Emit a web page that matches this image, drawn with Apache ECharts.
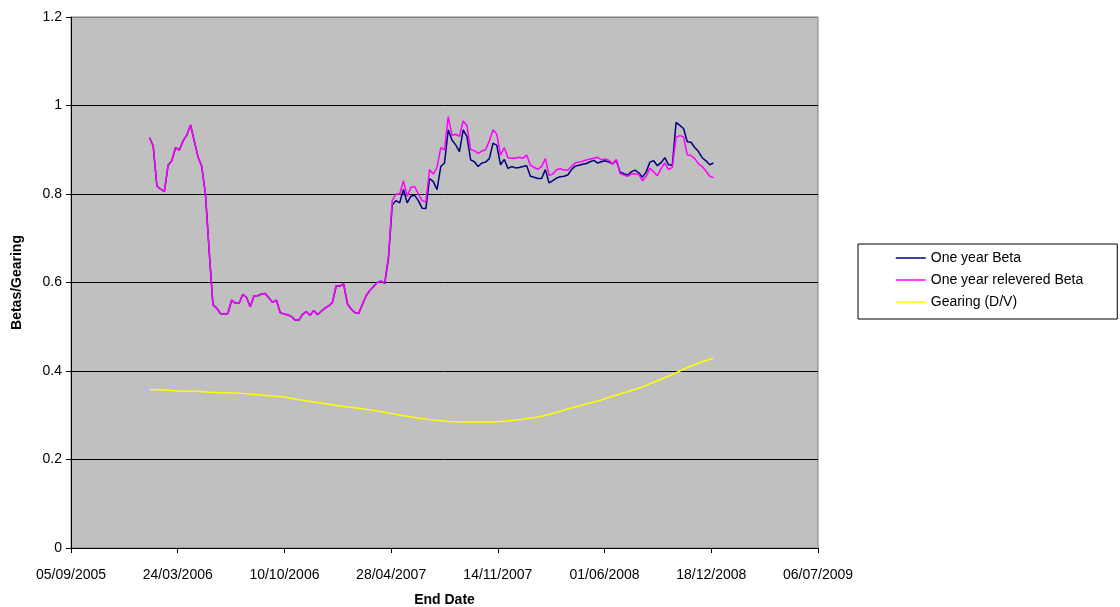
<!DOCTYPE html>
<html>
<head>
<meta charset="utf-8">
<script src="https://cdn.jsdelivr.net/npm/echarts@6/dist/echarts.min.js"></script>
<style>
  html, body { margin: 0; padding: 0; background: #fff; }
  #main { width: 1120px; height: 607px; }
</style>
</head>
<body>
<div id="main"></div>
<script>
// weekly observations, first one on 30/01/2006
var firstDate = '2006-01-30';
var axisStart = '2005-09-05';
var axisEndDay = 1400;
var tickDays = 200;

var betaOneYear = [
  .927, .909, .818, .811, .806, .865, .875, .905, .899, .920,
  .933, .956, .920, .884, .862, .800, .670, .550, .542, .530,
  .528, .530, .560, .553, .553, .573, .566, .545, .570, .570,
  .574, .575, .565, .555, .560, .532, .529, .527, .523, .515,
  .515, .528, .534, .526, .537, .527, .535, .542, .547, .555,
  .592, .592, .597, .552, .540, .532, .530, .550, .570, .582,
  .591, .600, .603, .598, .655, .775, .785, .780, .810, .780,
  .795, .797, .785, .768, .767, .835, .828, .810, .862, .870,
  .945, .922, .911, .896, .945, .930, .877, .873, .862, .870,
  .872, .880, .915, .910, .866, .878, .858, .862, .859, .860,
  .862, .864, .840, .838, .835, .835, .855, .825, .830, .836,
  .839, .840, .843, .855, .863, .865, .867, .869, .873, .876,
  .870, .873, .875, .872, .868, .876, .850, .846, .843, .850,
  .854, .848, .838, .850, .872, .875, .864, .871, .882, .866,
  .865, .962, .955, .948, .918, .917, .905, .896, .882, .875,
  .866, .870
];

var betaRelevered = [
  .927, .909, .818, .811, .806, .865, .875, .905, .899, .920,
  .933, .956, .920, .884, .862, .800, .670, .550, .542, .530,
  .528, .530, .560, .553, .553, .573, .566, .545, .570, .570,
  .574, .575, .565, .555, .560, .532, .529, .527, .523, .515,
  .515, .528, .534, .526, .537, .527, .535, .542, .547, .555,
  .592, .592, .597, .552, .540, .532, .530, .550, .570, .582,
  .591, .600, .603, .600, .660, .785, .800, .800, .830, .795,
  .815, .817, .800, .785, .782, .855, .845, .860, .905, .900,
  .975, .933, .935, .930, .965, .955, .900, .898, .892, .897,
  .900, .920, .945, .935, .888, .905, .882, .881, .881, .883,
  .881, .888, .865, .860, .856, .862, .880, .842, .845, .855,
  .857, .854, .854, .862, .870, .872, .874, .877, .879, .881,
  .883, .877, .879, .876, .868, .878, .846, .843, .840, .845,
  .845, .845, .830, .840, .858, .850, .841, .858, .870, .855,
  .860, .928, .932, .929, .888, .887, .880, .868, .862, .852,
  .840, .837
];

// gearing read every 4 weeks, last value on the final week
var gearingStep = 4;
var gearing = [
  .358, .357, .355, .354, .352, .351, .350, .347, .344, .341,
  .335, .330, .325, .320, .316, .311, .305, .299, .294, .289,
  .286, .285, .285, .285, .287, .291, .296, .304, .314, .323,
  .332, .343, .353, .364, .378, .392, .408, .421, .429
];

var DAY = 86400000;
function utc(s) {
  var p = s.split('-');
  return Date.UTC(+p[0], +p[1] - 1, +p[2]);
}
var base = utc(axisStart);
var firstDay = (utc(firstDate) - base) / DAY;

function weekDay(i) { return firstDay + 7 * i; }

var seriesBeta = betaOneYear.map(function (v, i) { return [weekDay(i), v]; });
var seriesRelev = betaRelevered.map(function (v, i) { return [weekDay(i), v]; });
var lastWeek = betaOneYear.length - 1;
var seriesGear = gearing.map(function (v, k) { return [weekDay(Math.min(k * gearingStep, lastWeek)), v]; });

function pad(n) { return n < 10 ? '0' + n : '' + n; }
function dayLabel(d) {
  var t = new Date(base + d * DAY);
  return pad(t.getUTCDate()) + '/' + pad(t.getUTCMonth() + 1) + '/' + t.getUTCFullYear();
}

var font = "'Liberation Sans', Arial, sans-serif";
var chart = echarts.init(document.getElementById('main'));

var option = {
  animation: false,
  textStyle: { fontFamily: font },
  grid: {
    left: 71, right: 302, top: 17, bottom: 59,
    outerBoundsMode: 'none',
    containLabel: false,
    show: true,
    backgroundColor: '#c0c0c0',
    borderColor: '#808080',
    borderWidth: 1
  },
  legend: {
    orient: 'vertical',
    left: 858,
    top: 244,
    padding: [7, 34, 10, 37],
    itemGap: 8,
    itemWidth: 30,
    itemHeight: 14,
    borderColor: '#000',
    borderWidth: 1,
    backgroundColor: '#fff',
    itemStyle: { opacity: 0 },
    lineStyle: { width: 1.5 },
    textStyle: { fontFamily: font, fontSize: 14, color: '#000' },
    data: ['One year Beta', 'One year relevered Beta', 'Gearing (D/V)']
  },
  xAxis: {
    type: 'value',
    min: 0,
    max: axisEndDay,
    interval: tickDays,
    name: 'End Date',
    nameLocation: 'middle',
    nameGap: 45,
    nameTextStyle: { fontFamily: font, fontSize: 14, fontWeight: 'bold', color: '#000' },
    axisLine: { lineStyle: { color: '#000', width: 1 } },
    axisTick: { show: true, length: 5, lineStyle: { color: '#000' } },
    axisLabel: {
      color: '#000', fontSize: 14, fontFamily: font, margin: 20,
      showMinLabel: true, showMaxLabel: true,
      formatter: dayLabel
    },
    splitLine: { show: false }
  },
  yAxis: {
    type: 'value',
    min: 0,
    max: 1.2,
    interval: 0.2,
    name: 'Betas/Gearing',
    nameLocation: 'middle',
    nameGap: 47,
    nameTextStyle: { fontFamily: font, fontSize: 14, fontWeight: 'bold', color: '#000' },
    axisLine: { show: true, lineStyle: { color: '#000', width: 1 } },
    axisTick: { show: true, length: 5, lineStyle: { color: '#000' } },
    axisLabel: { color: '#000', fontSize: 14, fontFamily: font, margin: 9 },
    splitLine: {
      show: true,
      lineStyle: { color: ['#000', '#000', '#000', '#000', '#000', '#000', '#808080'], width: 1 }
    }
  },
  series: [
    {
      name: 'One year Beta',
      type: 'line',
      data: seriesBeta,
      symbol: 'none',
      lineStyle: { color: '#000080', width: 1.5 },
      itemStyle: { color: '#000080' }
    },
    {
      name: 'One year relevered Beta',
      type: 'line',
      data: seriesRelev,
      symbol: 'none',
      lineStyle: { color: '#ff00ff', width: 1.5 },
      itemStyle: { color: '#ff00ff' }
    },
    {
      name: 'Gearing (D/V)',
      type: 'line',
      data: seriesGear,
      symbol: 'none',
      lineStyle: { color: '#ffff00', width: 1.5 },
      itemStyle: { color: '#ffff00' }
    }
  ]
};
chart.setOption(option);
</script>
</body>
</html>
